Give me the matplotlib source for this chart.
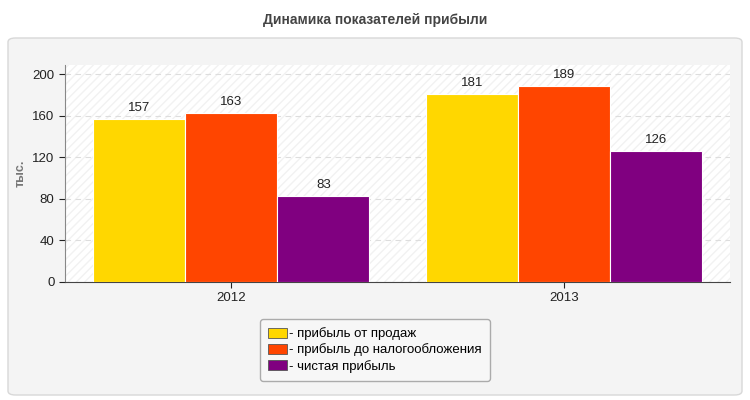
import matplotlib
matplotlib.use("Agg")
import matplotlib.pyplot as plt
from matplotlib.patches import FancyBboxPatch, Patch
import numpy as np

plt.rcParams["font.family"] = "Liberation Sans"
plt.rcParams["hatch.color"] = "#f0f0f0"

categories = ["2012", "2013"]
series_names = ["- прибыль от продаж", "- прибыль до налогообложения", "- чистая прибыль"]
sales = [157, 181]
pretax = [163, 189]
net = [83, 126]
colors = ["#FFD700", "#FF4500", "#800080"]
yticks = [0, 40, 80, 120, 160, 200]

W, H = 750, 400
fig = plt.figure(figsize=(W/100, H/100), dpi=100)
fig.patch.set_facecolor("white")
panel = FancyBboxPatch((8/W, 5/H), 734/W, 357/H, boxstyle="round,pad=0,rounding_size=0.01",
                       transform=fig.transFigure, facecolor="#f4f4f4", edgecolor="#d8d8d8", lw=1,
                       zorder=-10)
fig.patches.append(panel)
fig.text(375/W, 1-20/H, "Динамика показателей прибыли", ha="center", va="center",
         fontsize=10, fontweight="bold", color="#444444")

ax = fig.add_axes([65/W, 1-282/H, 665/W, 217/H])
ax.set_zorder(5)
ax.set_facecolor("white")
ax.add_patch(plt.Rectangle((0, 0), 1, 1, transform=ax.transAxes, facecolor="white",
                           hatch="////", edgecolor="#f2f2f2", lw=0, zorder=0))
x = np.arange(len(categories))
bw = 0.277
for i, (vals, c) in enumerate(zip([sales, pretax, net], colors)):
    pos = x + (i-1)*bw
    ax.bar(pos, vals, width=bw, color=c, edgecolor="white", lw=0.8, zorder=3)
    for p, v in zip(pos, vals):
        ax.text(p, v + 5, str(v), ha="center", va="bottom", fontsize=9.5, color="#222222", zorder=4)
ax.set_xlim(-0.5, 1.5)
ax.set_ylim(0, 209)
ax.set_yticks(yticks)
ax.set_xticks(x)
ax.set_xticklabels(categories)
ax.tick_params(labelsize=9.5, colors="#222222", length=4)
ax.yaxis.grid(True, ls=(0, (5, 4)), color="#dddddd", zorder=1)
for s in ["top", "right"]:
    ax.spines[s].set_visible(False)
ax.spines["left"].set_color("#888888")
ax.spines["bottom"].set_color("#444444")
ax.set_ylabel("тыс.", fontsize=9, color="#777777", fontweight="bold")

handles = [Patch(facecolor=c, edgecolor="#555555", lw=0.6) for c in colors]
leg = fig.legend(handles, series_names, loc="center", bbox_to_anchor=(375/W, 1-350/H),
                 fontsize=9.5, frameon=True, handlelength=1.4, handleheight=0.8,
                 handletextpad=0.2, borderpad=0.6, labelspacing=0.25, fancybox=True)
leg.get_frame().set_facecolor("#f9f9f9")
leg.get_frame().set_edgecolor("#999999")
fig.savefig("out.png", dpi=100, facecolor="white")
